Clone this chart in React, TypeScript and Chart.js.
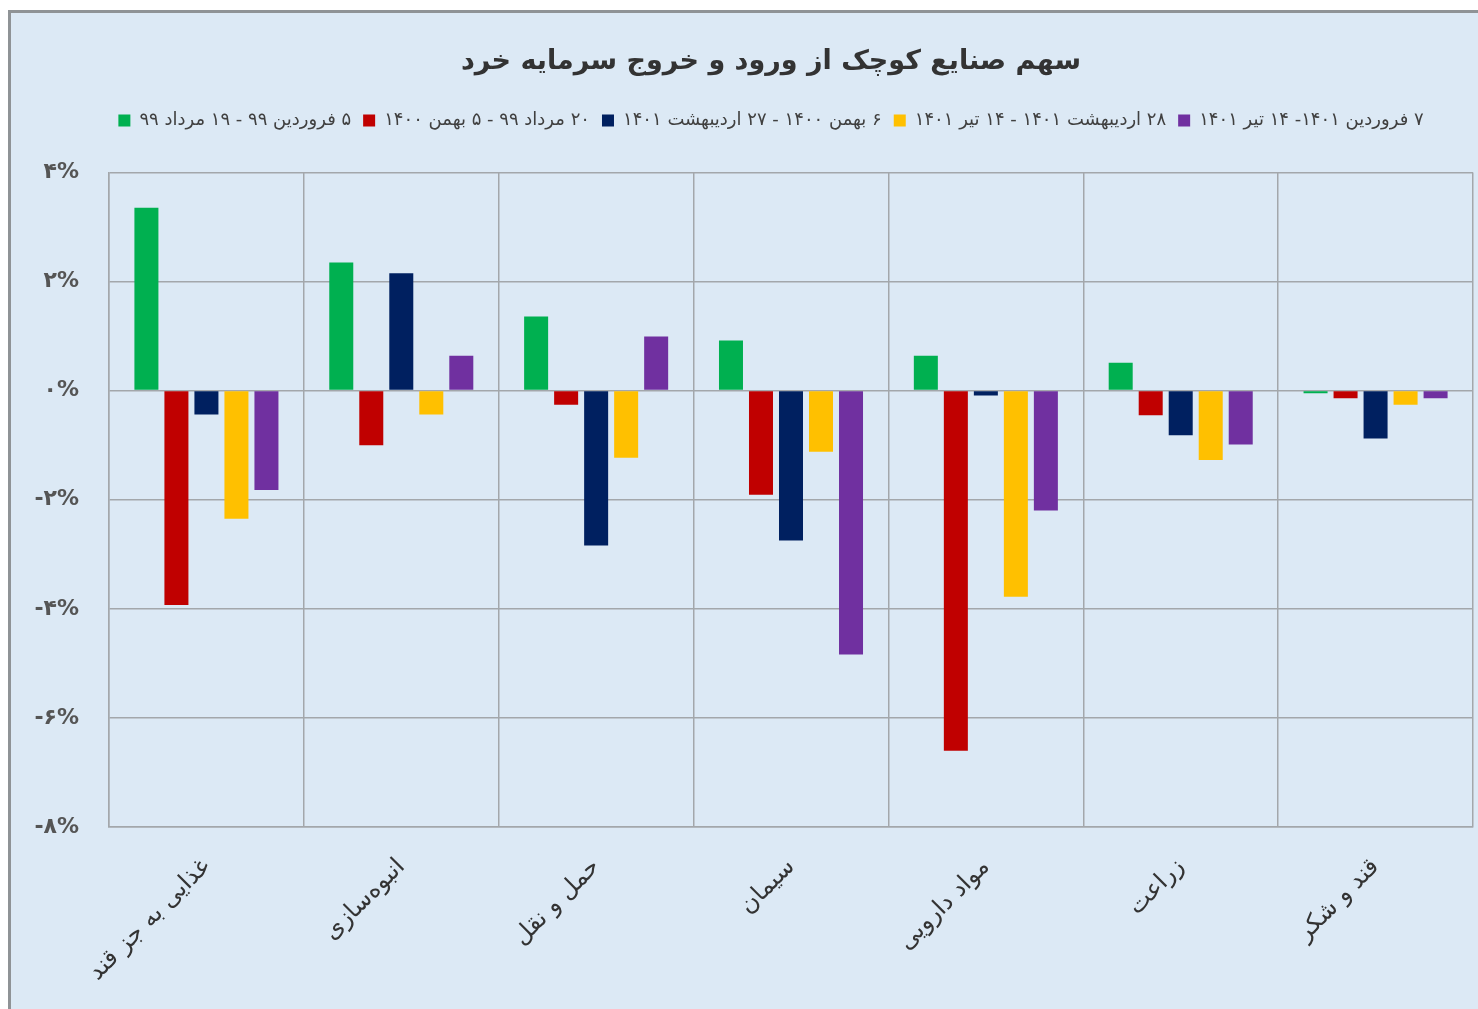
import React, { useEffect, useRef } from 'react';
import { Chart, registerables } from 'chart.js';

Chart.register(...registerables);

const chartTitle = 'سهم صنایع کوچک از ورود و خروج سرمایه خرد';

const categories = [
  'غذایی به جز قند',
  'انبوه‌سازی',
  'حمل و نقل',
  'سیمان',
  'مواد دارویی',
  'زراعت',
  'قند و شکر',
];

const seriesNames = [
  '۵ فروردین ۹۹ - ۱۹ مرداد ۹۹',
  '۲۰ مرداد ۹۹ - ۵ بهمن ۱۴۰۰',
  '۶ بهمن ۱۴۰۰ - ۲۷ اردیبهشت ۱۴۰۱',
  '۲۸ اردیبهشت ۱۴۰۱ - ۱۴ تیر ۱۴۰۱',
  '۷ فروردین ۱۴۰۱- ۱۴ تیر ۱۴۰۱',
];

const seriesColors = ['#00b050', '#c00000', '#002060', '#ffc000', '#7030a0'];

const period1 = [3.35, 2.35, 1.36, 0.92, 0.64, 0.51, -0.05];
const period2 = [-3.93, -1.0, -0.26, -1.91, -6.6, -0.45, -0.14];
const period3 = [-0.44, 2.15, -2.84, -2.75, -0.09, -0.82, -0.88];
const period4 = [-2.35, -0.44, -1.23, -1.12, -3.78, -1.27, -0.26];
const period5 = [-1.82, 0.64, 0.99, -4.84, -2.2, -0.99, -0.14];

const yTickValues = [4, 2, 0, -2, -4, -6, -8];
const yTickLabels = ['۴%', '۲%', '۰%', '-۲%', '-۴%', '-۶%', '-۸%'];

const FONT = "'DejaVu Sans', sans-serif";
const GRID = '#a3a7ab';
const RLM = '\u200F';

export default function App() {
  const ref = useRef<HTMLCanvasElement>(null);

  useEffect(() => {
    if (!ref.current) return;
    const allSeries = [period1, period2, period3, period4, period5];
    const legendGap = {
      id: 'legendGap',
      afterInit(chart: any) {
        const lg = chart.legend;
        if (!lg) return;
        const orig = lg.fit.bind(lg);
        lg.fit = () => {
          orig();
          lg.height += 33;
        };
      },
    };
    const chart = new Chart(ref.current, {
      type: 'bar',
      data: {
        labels: categories,
        datasets: allSeries.map((d, i) => ({
          label: RLM + seriesNames[i],
          data: d,
          backgroundColor: seriesColors[i],
          borderWidth: 0,
          categoryPercentage: 0.77,
          barPercentage: 0.8,
        })),
      },
      options: {
        responsive: false,
        animation: false,
        devicePixelRatio: 1,
        layout: { padding: 0 },
        plugins: {
          title: {
            display: true,
            text: chartTitle,
            color: '#333333',
            font: { family: FONT, size: 27, weight: 'bold' },
            padding: { top: 33, bottom: 21 },
          },
          legend: {
            display: true,
            position: 'top',
            labels: {
              color: '#404040',
              font: { family: FONT, size: 18 },
              boxWidth: 12,
              boxHeight: 12,
              padding: 12,
            },
          },
          tooltip: { enabled: false },
        },
        scales: {
          x: {
            grid: {
              color: GRID,
              lineWidth: 1.5,
              drawTicks: false,
              offset: true,
            },
            border: { color: GRID, width: 1.5 },
            ticks: {
              color: '#333333',
              font: { family: FONT, size: 24 },
              minRotation: 45,
              maxRotation: 45,
              padding: 26,
            },
            afterFit(scale: any) {
              scale.height = 182;
            },
          },
          y: {
            min: -8,
            max: 4,
            grid: { color: GRID, lineWidth: 1.5, drawTicks: false },
            border: { color: GRID, width: 1.5 },
            ticks: {
              stepSize: 2,
              color: '#555555',
              font: { family: FONT, size: 22, weight: 'bold' },
              padding: 30,
              callback: (v: any) => {
                const idx = yTickValues.indexOf(Number(v));
                return idx >= 0 ? yTickLabels[idx] : '';
              },
            },
            afterFit(scale: any) {
              scale.width = 98;
            },
          },
          spacer: {
            type: 'linear',
            position: 'right',
            display: true,
            grid: { display: false, drawTicks: false },
            border: { display: false },
            ticks: { display: false },
            afterFit(scale: any) {
              scale.width = 58;
            },
          },
        },
      },
      plugins: [legendGap],
    });
    return () => chart.destroy();
  }, []);

  return (
    <div
      style={{
        position: 'absolute',
        left: 0,
        top: 0,
        width: 1478,
        height: 1009,
        overflow: 'hidden',
        background: '#ffffff',
      }}
    >
      <div
        style={{
          position: 'absolute',
          left: 8,
          top: 10,
          width: 1540,
          height: 1010,
          background: '#dce9f5',
          borderTop: '3px solid #8f9396',
          borderLeft: '3px solid #8f9396',
        }}
      >
        <canvas ref={ref} width={1520} height={996} style={{ display: 'block' }} />
      </div>
    </div>
  );
}
